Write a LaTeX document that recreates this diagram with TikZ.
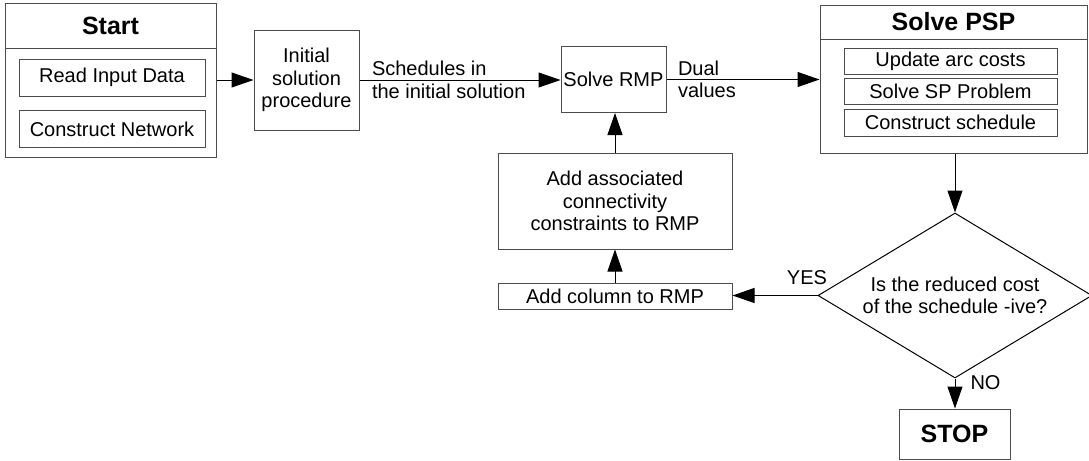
\documentclass[tikz,border=0pt]{standalone}
\usepackage{fontspec}
\setmainfont{Liberation Sans}
\usetikzlibrary{shapes.geometric,arrows.meta}
\begin{document}
\begin{tikzpicture}[x=0.5pt, y=-0.5pt,
    box/.style={draw=black!70, line width=0.5pt, inner sep=0pt, align=center, font=\fontsize{10}{11.25}\selectfont},
    head/.style={box, font=\fontsize{12.5}{15}\selectfont\bfseries},
    arr/.style={-{Triangle[length=11pt, width=7.5pt]}, line width=0.5pt},
    lbl/.style={inner sep=0pt, align=left, font=\fontsize{10}{11.25}\selectfont}]
\useasboundingbox (0,0) rectangle (1089,461);
\node(Sh) [head, minimum width=105.5pt, minimum height=22.5pt] at (110.5,25.5) {Start};
\node(Sb) [box, minimum width=105.5pt, minimum height=54.5pt] at (110.5,102.5) {};
\node(r1) [box, minimum width=93pt, minimum height=18.5pt] at (112,77.5) {Read Input Data};
\node(r2) [box, minimum width=93pt, minimum height=18.5pt] at (112,129) {Construct Network};
\node(ini) [box, minimum width=52.5pt, minimum height=50pt] at (306.5,80) {Initial\\solution\\procedure};
\node(rmp) [box, minimum width=52.5pt, minimum height=33pt] at (613.5,79.5) {Solve RMP};
\node(Ph) [head, minimum width=133.5pt, minimum height=17pt] at (953.5,22) {Solve PSP};
\node(Pb) [box, minimum width=133.5pt, minimum height=57pt] at (953.5,96) {};
\node(p1) [box, minimum width=106.5pt, minimum height=13pt] at (950.5,61) {Update arc costs};
\node(p2) [box, minimum width=106.5pt, minimum height=13pt] at (950.5,91) {Solve SP Problem};
\node(p3) [box, minimum width=106.5pt, minimum height=13.5pt] at (950.5,122.5) {Construct schedule};
\node(dec) [box, draw=black, shape=diamond, aspect=1.66, minimum width=137pt, minimum height=82.5pt] at (955,295.5) {Is the reduced cost\\of the schedule -ive?};
\node(col) [box, minimum width=117pt, minimum height=13pt] at (615,296) {Add column to RMP};
\node(asc) [box, minimum width=117pt, minimum height=48pt] at (615,201) {Add associated\\connectivity\\constraints to RMP};
\node(stop) [head, minimum width=55.5pt, minimum height=25pt] at (954.5,434) {STOP};
\draw[arr] (ini.west -| Sb.east) -- (ini.west);
\draw[arr] (ini.east) -- node[lbl, pos=0, anchor=west, xshift=6pt] {Schedules in\\the initial solution} (ini.east -| rmp.west);
\draw[arr] (rmp.east) -- node[lbl, pos=0, anchor=west, xshift=5.5pt] {Dual\\values} (rmp.east -| Pb.west);
\draw[arr] (dec.north |- Pb.south) -- (dec.north);
\draw[arr] (dec.west) -- node[lbl, pos=0, anchor=south east, xshift=5pt, yshift=5pt] {YES} (dec.west -| col.east);
\draw[arr] (dec.south) -- node[lbl, pos=0, anchor=west, xshift=7.5pt, yshift=-2pt] {NO} (dec.south |- stop.north);
\draw[arr] (col.north) -- (col.north |- asc.south);
\draw[arr] (asc.north) -- (asc.north |- rmp.south);
\end{tikzpicture}
\end{document}
